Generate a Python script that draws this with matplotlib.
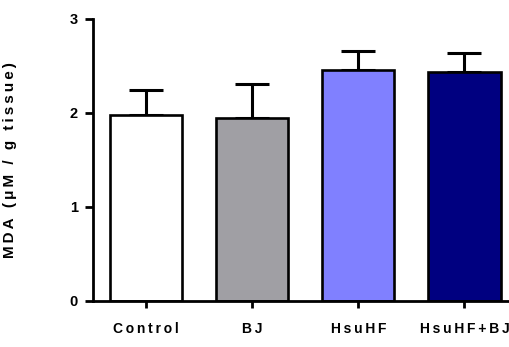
import numpy as np
import matplotlib
matplotlib.use("Agg")
import matplotlib.pyplot as plt

# group means and upper SD for MDA
groups = ["Control", "BJ", "HsuHF", "HsuHF+BJ"]
mda_mean = [1.97, 1.94, 2.45, 2.43]
mda_sd = [0.27, 0.36, 0.21, 0.20]
bar_colors = ["#FFFFFF", "#A09FA4", "#8080FF", "#000080"]
y_ticks = [0, 1, 2, 3]

plt.rcParams['font.family'] = ['Liberation Sans', 'DejaVu Sans']
plt.rcParams['font.weight'] = 'bold'


def spaced(s):
    # wide tracking like the original software output
    return "\u2009".join(s)


fig = plt.figure(figsize=(5.10, 3.47), dpi=100)
ax = fig.add_axes([93 / 510, 1 - 301 / 347, 416 / 510, (301 - 18.5) / 347])

x = np.arange(len(groups))
ax.errorbar(x, mda_mean, yerr=[np.zeros(len(groups)), mda_sd], fmt='none',
            ecolor='black', elinewidth=2.2, capsize=12.5, capthick=2.2, zorder=1)
ax.bar(x, mda_mean, width=0.68, color=bar_colors, edgecolor='black',
       linewidth=1.9, zorder=2)

ax.set_xlim(-0.5, 3.42)
ax.set_ylim(0, 3)
ax.set_yticks(y_ticks)
ax.set_xticks(x)
ax.set_xticklabels([spaced(g) for g in groups], fontsize=10, fontweight='bold')
ax.set_yticklabels([str(t) for t in y_ticks], fontsize=10.5, fontweight='bold')

for side in ['top', 'right']:
    ax.spines[side].set_visible(False)
for side in ['left', 'bottom']:
    ax.spines[side].set_linewidth(2)
ax.tick_params(axis='y', length=6, width=2, pad=5)
ax.tick_params(axis='x', length=5, width=2, pad=10)

fig.text(0.019, 1 - 160 / 347, spaced("MDA (\u03bcM / g tissue)"), rotation=90,
         ha='center', va='center', fontsize=11, fontweight='bold')

fig.savefig("out.png", dpi=100)
